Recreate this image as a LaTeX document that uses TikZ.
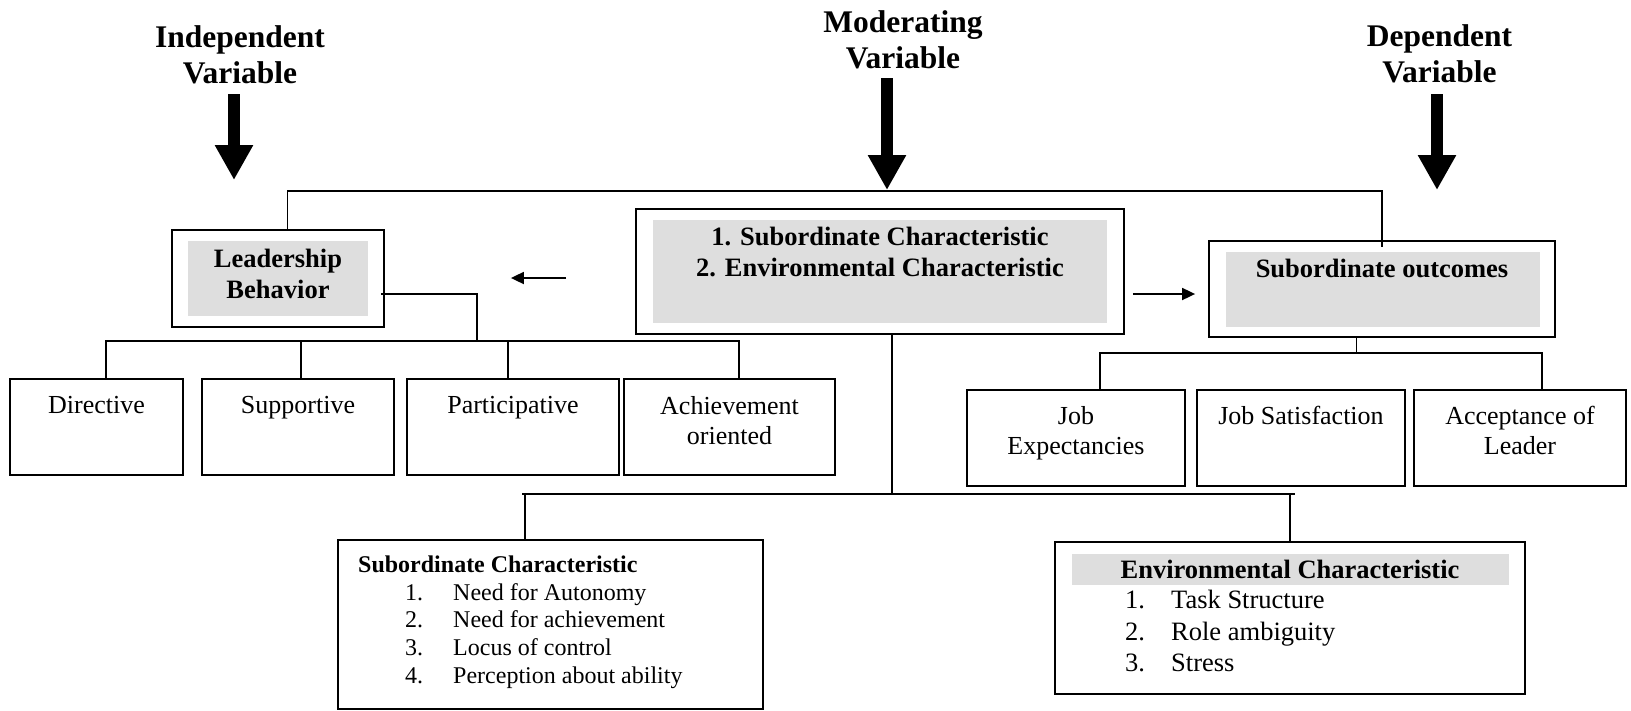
\documentclass[tikz,border=0pt]{standalone}
\usepackage{fontspec}
\setmainfont{Liberation Serif}
\usetikzlibrary{arrows.meta,calc}
\definecolor{shade}{RGB}{222,222,222}
\tikzset{
  boxframe/.style={draw, line width=1.8pt, rectangle, inner sep=0pt},
  shadebox/.style={fill=shade, rectangle, inner sep=0pt},
  conn/.style={line width=1.8pt},
  bigarrow/.style={line width=12pt, -{Triangle[width=36pt,length=35pt]}},
  smallarrow/.style={line width=1.8pt, -{Triangle[width=12pt,length=13pt]}},
  titletext/.style={font=\fontsize{31.5}{36}\selectfont\bfseries, align=center, inner sep=0pt, anchor=north},
  boldtext/.style={font=\fontsize{26.5}{31}\selectfont\bfseries, align=center, inner sep=0pt},
  plaintext/.style={font=\fontsize{26}{30}\selectfont, align=center, inner sep=0pt, anchor=north},
}
\begin{document}
\begin{tikzpicture}[x=1pt,y=-1pt]
\useasboundingbox (0,0) rectangle (1631,710);
% titles
\node[titletext] (ind) at (240,25.7) {Independent\\Variable};
\node[titletext] (mod) at (903,10.7) {Moderating\\Variable};
\node[titletext] (dep) at (1439.5,24.7) {Dependent\\Variable};
\coordinate (h1) at (234,180);
\coordinate (h2) at (887,190);
\coordinate (h3) at (1437,190);
\draw[bigarrow] ([yshift=-10pt]ind.south -| h1) -- (h1);
\draw[bigarrow] ([yshift=-9pt]mod.south -| h2) -- (h2);
\draw[bigarrow] ([yshift=-11pt]dep.south -| h3) -- (h3);
% leadership
\node[boxframe, minimum width=212pt, minimum height=97pt] (lb) at (278,278.5) {};
\node[shadebox, minimum width=180pt, minimum height=75pt] (lbg) at (278,278.5) {};
\node[boldtext, anchor=north] (lbt) at (278,249) {Leadership\\Behavior};
% middle
\node[boxframe, minimum width=488pt, minimum height=125pt] (mid) at (880,271.5) {};
\node[shadebox, minimum width=454pt, minimum height=103pt] (midg) at (880,271.5) {};
\node[boldtext, anchor=north] (midt) at (880,227) {1. Subordinate Characteristic\\2. Environmental Characteristic};
% outcomes
\node[boxframe, minimum width=346pt, minimum height=96pt] (out) at (1382,289) {};
\node[shadebox, minimum width=314pt, minimum height=75pt] (outg) at (1383,289.5) {};
\node[boldtext, anchor=base] (outt) at (1382,277) {Subordinate outcomes};
% four styles
\node[boxframe, minimum width=173pt, minimum height=96pt] (dir) at (96.5,427) {};
\node[plaintext] (dirt) at ([yshift=-18pt]dir.north) {Directive};
\node[boxframe, minimum width=192pt, minimum height=96pt] (sup) at (298,427) {};
\node[plaintext] (supt) at ([yshift=-18pt]sup.north) {Supportive};
\node[boxframe, minimum width=212pt, minimum height=96pt] (par) at (513,427) {};
\node[plaintext] (part) at ([yshift=-18pt]par.north) {Participative};
\node[boxframe, minimum width=211pt, minimum height=96pt] (ach) at (729.5,427) {};
\node[plaintext] (acht) at ([yshift=-18pt]ach.north) {Achievement\\oriented};
% outcomes boxes
\node[boxframe, minimum width=218pt, minimum height=96pt] (jexp) at (1076,438) {};
\node[plaintext] (jexpt) at ([yshift=-17pt]jexp.north) {Job\\Expectancies};
\node[boxframe, minimum width=208pt, minimum height=96pt] (jsat) at (1301,438) {};
\node[plaintext] (jsatt) at ([yshift=-17pt]jsat.north) {Job Satisfaction};
\node[boxframe, minimum width=212pt, minimum height=96pt] (acc) at (1520,438) {};
\node[plaintext] (acct) at ([yshift=-17pt]acc.north) {Acceptance of\\Leader};
% subordinate characteristic
\node[boxframe, minimum width=425pt, minimum height=169pt] (sc) at (550.5,624.5) {};
\node[font=\fontsize{24}{27.7}\selectfont, align=left, anchor=north west, inner sep=0pt] (sct) at (358,555.7)
 {\textbf{Subordinate Characteristic}\\
  \hspace*{47pt}\makebox[48pt][l]{1.}Need for Autonomy\\
  \hspace*{47pt}\makebox[48pt][l]{2.}Need for achievement\\
  \hspace*{47pt}\makebox[48pt][l]{3.}Locus of control\\
  \hspace*{47pt}\makebox[48pt][l]{4.}Perception about ability};
% environmental characteristic
\node[boxframe, minimum width=470pt, minimum height=152pt] (env) at (1290,618) {};
\node[shadebox, minimum width=437pt, minimum height=31pt] (envg) at (1290.5,569.5) {};
\node[boldtext, anchor=base] (envh) at (1290,578) {Environmental Characteristic};
\node[font=\fontsize{26.5}{31.5}\selectfont, align=left, anchor=north west, inner sep=0pt] (envt) at (1125,590)
 {\makebox[46pt][l]{1.}Task Structure\\
  \makebox[46pt][l]{2.}Role ambiguity\\
  \makebox[46pt][l]{3.}Stress};
% connectors
\coordinate (topbar) at (0,190.7);
\draw[conn] ($(lb.north)+(9.5,0)$) |- (topbar -| out.north) -- ($(out.north)+(0,7)$);
\coordinate (bar1) at (477,341);
\draw[conn] ($(lb.east)+(-4,15.5)$) -| (bar1);
\coordinate (c1) at ($(dir.north)+(9.5,0)$);
\coordinate (c2) at ($(sup.north)+(3,0)$);
\coordinate (c3) at ($(par.north)+(-5,0)$);
\coordinate (c4) at ($(ach.north)+(9.5,0)$);
\draw[conn] (c1) -- (c1 |- bar1) -- (c4 |- bar1) -- (c4);
\draw[conn] (c2) -- (c2 |- bar1);
\draw[conn] (c3) -- (c3 |- bar1);
\coordinate (bar2) at (0,494);
\coordinate (m1) at ($(mid.south)+(12,0)$);
\draw[conn] (m1) -- (m1 |- bar2);
\coordinate (s1) at ($(sc.north)+(-25.5,0)$);
\coordinate (e1) at (env.north);
\draw[conn] ($(s1 |- bar2)+(-3,0)$) -- ($(e1 |- bar2)+(5,0)$);
\draw[conn] (s1 |- bar2) -- (s1);
\draw[conn] ($(e1 |- bar2)+(0,-1)$) -- (e1);
\coordinate (bar3) at (0,353);
\coordinate (o1) at ($(out.south)+(-25.5,0)$);
\draw[conn] (o1) -- (o1 |- bar3);
\coordinate (j1) at ($(jexp.north)+(24,0)$);
\coordinate (j3) at ($(acc.north)+(22,0)$);
\draw[conn] (j1) -- (j1 |- bar3) -- (j3 |- bar3) -- (j3);
% small arrows between boxes
\coordinate (la1) at ($(mid.west)+(-69,6.5)$);
\coordinate (la2) at ($(lb.east)+(126,-0.5)$);
\draw[smallarrow] (la1) -- (la2);
\coordinate (ra1) at ($(mid.east)+(8,22.5)$);
\coordinate (ra2) at ($(out.west)+(-13,5)$);
\draw[smallarrow] (ra1) -- (ra2);
\end{tikzpicture}
\end{document}
